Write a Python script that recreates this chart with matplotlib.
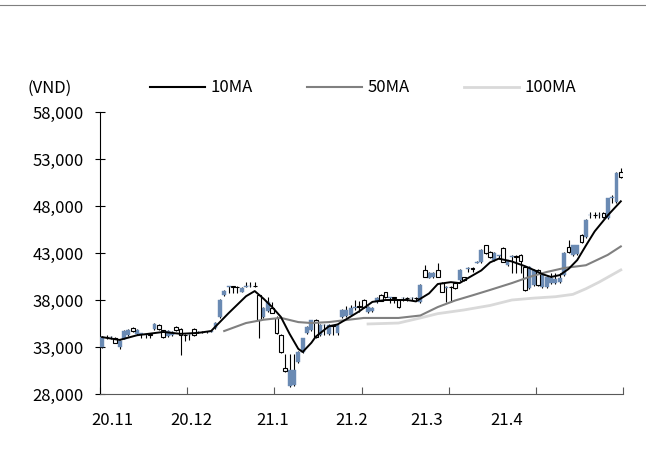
import matplotlib
matplotlib.use('Agg')
import matplotlib.pyplot as plt
from matplotlib.lines import Line2D
from matplotlib.ticker import FuncFormatter
import numpy as np

plt.rcParams['font.family'] = ['Noto Sans CJK KR', 'DejaVu Sans']

# daily candles, VND (Nov 2020 - Apr 2021)
opens = [33000, 34100, 34050, 34000, 33000, 33900, 34300, 35000, 34400, 34400,
         34300, 34350, 34900, 35300, 34800, 34200, 34300, 35100, 34900, 34300,
         34250, 34900, 34550, 34600, 34550, 34600, 35000, 36200, 38500, 39400,
         39450, 39400, 38850, 39400, 39450, 39500, 38500, 36200, 36800, 37150,
         36100, 34300, 30800, 28800, 29000, 31400, 32500, 34500, 34800, 35850,
         34300, 35300, 34400, 35300, 34500, 36200, 36300, 36400, 37200, 37300,
         38000, 36700, 36800, 37800, 38500, 38850, 38250, 38300, 38000, 38200,
         38250, 38200, 38250, 37800, 41200, 40350, 40400, 41200, 39800, 39300,
         39400, 39800, 40100, 40450, 41300, 41350, 41950, 42050, 43850, 43100,
         42250, 42700, 43500, 41700, 42600, 42650, 42800, 41500, 39300, 39600,
         41200, 39400, 39400, 39800, 39800, 39900, 40700, 43600, 42800, 42900,
         44900, 44700, 47000, 47050, 47000, 47300, 46700, 48900, 48400, 51600]
highs = [34150, 34250, 34200, 34050, 33700, 34800, 34900, 35100, 34900, 34500,
         34400, 34400, 35550, 35400, 34850, 34800, 34700, 35200, 35000, 34350,
         34350, 35000, 34650, 34650, 34650, 34700, 35700, 38100, 39100, 39500,
         39500, 39450, 39400, 39900, 39900, 39900, 38600, 37300, 38300, 37800,
         36300, 34400, 32300, 32300, 32300, 32600, 34000, 35200, 35900, 36000,
         35400, 35400, 35400, 35350, 35400, 37000, 37400, 37500, 38000, 37900,
         38100, 37400, 37300, 38300, 38600, 38900, 38350, 38350, 38100, 38300,
         38300, 38300, 38300, 39700, 41700, 41000, 41000, 41900, 39900, 39500,
         39500, 39900, 41300, 40500, 41500, 41500, 42100, 43400, 43900, 43200,
         43100, 42800, 43600, 42300, 42800, 42800, 42900, 41600, 41600, 41300,
         41300, 40800, 40600, 40900, 40900, 40900, 43100, 44400, 43900, 43900,
         45000, 46600, 47350, 47350, 47350, 47400, 48900, 49200, 51600, 52000]
lows = [32900, 33850, 33900, 33400, 32800, 33800, 34200, 34600, 34300, 34000,
        33950, 34000, 34800, 34850, 34000, 34100, 34200, 34700, 32200, 33600,
        33700, 34200, 34500, 34500, 34500, 34550, 34900, 36100, 38400, 38700,
        38700, 38750, 38800, 39350, 39400, 39350, 34000, 36100, 36700, 36600,
        34400, 32400, 30300, 28700, 28800, 31300, 32400, 34400, 34700, 34000,
        34200, 34300, 34300, 34300, 34300, 36100, 36200, 36300, 36900, 36700,
        37200, 36600, 36700, 37700, 37850, 38200, 37700, 37700, 37200, 37900,
        37900, 37950, 37900, 37700, 40400, 40300, 40300, 40400, 38800, 37800,
        37800, 39200, 40000, 40000, 41000, 41000, 41900, 41900, 42900, 42500,
        42200, 42400, 42000, 41600, 40900, 40900, 40900, 39000, 39200, 39500,
        39500, 39300, 39300, 39700, 39700, 39800, 40600, 43000, 42700, 42800,
        44100, 44600, 46700, 46700, 46700, 46700, 46600, 48300, 48300, 51000]
closes = [34050, 34050, 34100, 33450, 33600, 34700, 34800, 34700, 34800, 34450,
          34350, 34300, 35450, 34900, 34100, 34700, 34600, 34800, 34300, 34250,
          34300, 34300, 34600, 34550, 34600, 34650, 35600, 38000, 39000, 39450,
          39400, 39350, 39300, 39450, 39500, 39450, 35900, 37150, 37800, 36650,
          34500, 32500, 30400, 30500, 30500, 32450, 33950, 35100, 35850, 34100,
          35300, 35350, 35300, 35250, 35300, 36900, 36900, 37100, 37250, 37250,
          37250, 37250, 37200, 38200, 37900, 38300, 38300, 38250, 37250, 38250,
          38200, 38250, 38200, 39600, 40450, 40900, 40900, 40450, 38850, 39350,
          39350, 39300, 41200, 40150, 41350, 41300, 42000, 43300, 43000, 42600,
          43000, 42750, 42050, 42250, 42650, 42600, 42100, 39050, 41500, 41200,
          39600, 40700, 40500, 40300, 40200, 40300, 43000, 43100, 43850, 43800,
          44200, 46500, 47050, 47000, 47050, 46800, 48850, 48950, 51500, 51100]

# moving averages: (day index, value)
ma10_day = [0, 4, 8, 14, 18, 22, 25, 27, 29, 31, 33, 35, 37, 39, 41, 43, 45, 46, 48, 49,
            52, 54, 56, 59, 62, 65, 70, 72, 75, 77, 80, 82, 84, 87, 89, 91, 94, 97, 99,
            101, 103, 105, 107, 109, 111, 113, 116, 117, 119]
ma10_val = [34050, 33750, 34250, 34600, 34400, 34500, 34700, 35650, 36600, 37500, 38400,
            38950, 38150, 37250, 36200, 34400, 32800, 32470, 33450, 34100, 35200, 35400,
            35950, 36800, 37800, 38000, 38000, 37850, 38700, 39700, 39900, 39800, 40350,
            41150, 42000, 42400, 42100, 41600, 41200, 40750, 40450, 40650, 41300, 42250,
            43800, 45300, 47000, 47500, 48500]
ma50_day = [28, 33, 37, 41, 45, 48, 52, 56, 60, 68, 73, 77, 81, 85, 89, 94, 98, 102, 106,
            111, 116, 119]
ma50_val = [34700, 35550, 35900, 36100, 35650, 35550, 35650, 35870, 36090, 36090, 36350,
            37250, 37950, 38500, 39070, 39800, 40450, 40980, 41400, 41700, 42800, 43700]
ma100_day = [61, 68, 73, 77, 83, 89, 94, 99, 104, 108, 111, 114, 119]
ma100_val = [35450, 35550, 36090, 36550, 36940, 37420, 38000, 38200, 38350, 38600, 39200,
             39900, 41200]

month_labels = ['20.11', '20.12', '21.1', '21.2', '21.3', '21.4']
label_pos = [2.75, 20.9, 39.7, 57.8, 75.0, 93.4]

n = len(closes)
x = np.arange(n) + 0.5
o = np.array(opens)
c = np.array(closes)
up = c >= o

blue = '#6a8ab3'
fig = plt.figure(figsize=(6.46, 4.55), dpi=100)
ax = fig.add_axes([100/646, 61/455, 523/646, 282/455])

# wicks
ax.vlines(x, lows, highs, color='black', lw=0.8, zorder=2)
# bodies
bottom = np.minimum(o, c)
height = np.maximum(np.abs(c - o), 60)
ax.bar(x[up], height[up], bottom=bottom[up], width=0.9, color=blue,
       edgecolor=blue, lw=0.3, zorder=3)
ax.bar(x[~up], height[~up], bottom=bottom[~up], width=0.85, color='white',
       edgecolor='black', lw=0.8, zorder=3)

ax.plot(np.array(ma100_day) + 0.5, ma100_val, color='#d9d9d9', lw=2.0, zorder=4)
ax.plot(np.array(ma50_day) + 0.5, ma50_val, color='#808080', lw=1.5, zorder=5)
ax.plot(np.array(ma10_day) + 0.5, ma10_val, color='black', lw=1.4, zorder=6)

ax.set_xlim(0, 120)
ax.set_ylim(28000, 58000)
ax.set_yticks(np.arange(28000, 58001, 5000))
ax.yaxis.set_major_formatter(FuncFormatter(lambda v, p: f'{int(v):,}'))
ax.tick_params(axis='y', direction='inout', length=7, width=0.8, labelsize=12, pad=8)

ax.set_xticks(np.arange(0, 121, 20))
ax.set_xticklabels([])
ax.set_xticks(label_pos, minor=True)
ax.set_xticklabels(month_labels, minor=True)
ax.tick_params(axis='x', which='major', direction='in', length=5, width=0.8, color='#595959')
ax.tick_params(axis='x', which='minor', length=0, labelsize=12, pad=13)

for s in ['top', 'right']:
    ax.spines[s].set_visible(False)
ax.spines['left'].set_linewidth(0.8)
ax.spines['bottom'].set_color('#595959')
ax.spines['bottom'].set_linewidth(0.8)

fig.text(50/646, 1 - 88/455, '(VND)', ha='center', va='center', fontsize=12)
handles = [Line2D([], [], color='black', lw=1.5),
           Line2D([], [], color='#808080', lw=1.5),
           Line2D([], [], color='#d9d9d9', lw=2.0)]
fig.legend(handles, ['10MA', '50MA', '100MA'], loc='center left',
           bbox_to_anchor=(150/646, 1 - 88/455), ncol=3, frameon=False,
           fontsize=12, handlelength=3.3, handletextpad=0.3, columnspacing=3.3,
           borderpad=0, borderaxespad=0)

fig.add_artist(Line2D([0, 1], [1 - 5/455, 1 - 5/455], color='#7f7f7f', lw=0.8))

fig.savefig('out.png', dpi=100)
